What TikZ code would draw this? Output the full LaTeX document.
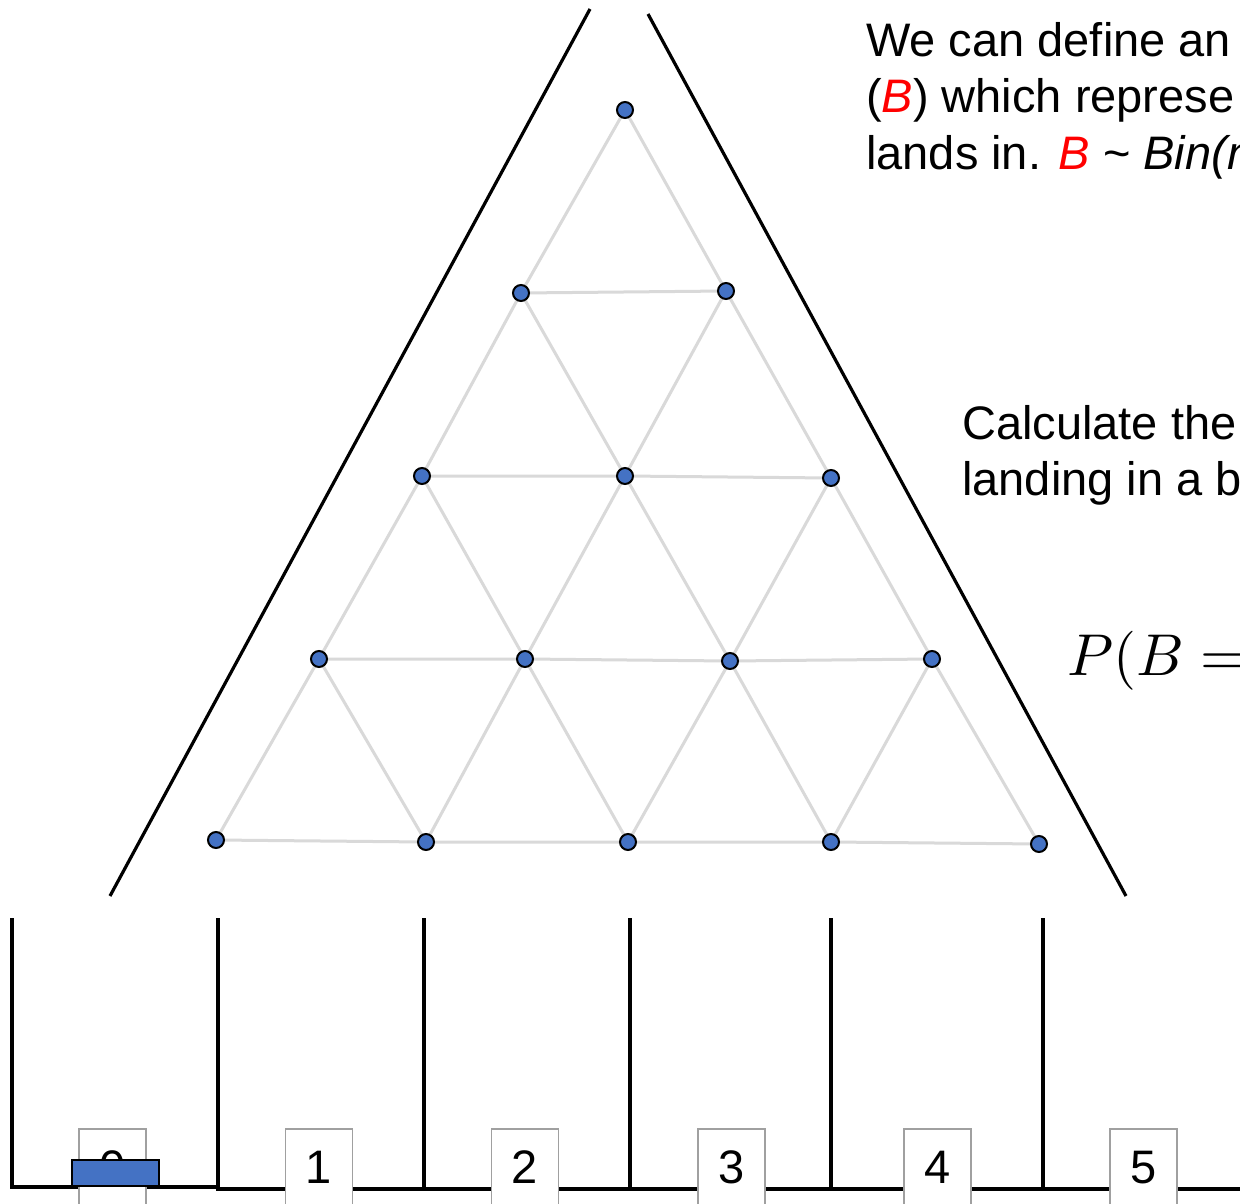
\documentclass[tikz,border=0pt]{standalone}
\usepackage{fontspec}
\setmainfont{Liberation Sans}
\usepackage{amsmath}
\definecolor{pegblue}{HTML}{4472C4}
\definecolor{latgrey}{HTML}{D9D9D9}
\definecolor{boxgrey}{HTML}{A0A0A0}
\definecolor{redB}{HTML}{FF0000}
\pgfdeclarelayer{background}
\pgfsetlayers{background,main}
\tikzset{
  peg/.style={circle,draw=black,fill=pegblue,line width=2pt,minimum size=16pt,inner sep=0pt},
  lattice/.style={draw=latgrey,line width=3pt},
  wall/.style={draw=black,line width=3.2pt},
  binlabel/.style={draw=boxgrey,fill=white,line width=1.8pt,minimum width=67pt,minimum height=100pt,anchor=north,inner sep=0pt},
  bintext/.style={font=\fontsize{47}{50}\selectfont,anchor=base,inner sep=0pt},
  txt/.style={font=\fontsize{47}{56}\selectfont,anchor=base west,inner sep=0pt},
}
\begin{document}
\begin{tikzpicture}[x=1pt,y=-1pt]
\clip (0,0) rectangle (1240,1204);

% pegs
\foreach \n/\x/\y in {p00/625/110,p10/521/293,p11/726/291,p20/422/476,p21/625/476,p22/831/478,p30/319/659,p31/525/659,p32/730/661,p33/932/659,p40/216/840,p41/426/842,p42/628/842,p43/831/842,p44/1039/844}
  \node[peg] (\n) at (\x,\y) {};

% white page and lattice (behind pegs)
\begin{pgfonlayer}{background}
\fill[white] (0,0) rectangle (1240,1204);
\path[lattice]
  (p00)--(p10) (p00)--(p11) (p10)--(p11)
  (p10)--(p20) (p10)--(p21) (p11)--(p21) (p11)--(p22) (p20)--(p21) (p21)--(p22)
  (p20)--(p30) (p20)--(p31) (p21)--(p31) (p21)--(p32) (p22)--(p32) (p22)--(p33)
  (p30)--(p31) (p31)--(p32) (p32)--(p33)
  (p30)--(p40) (p30)--(p41) (p31)--(p41) (p31)--(p42) (p32)--(p42) (p32)--(p43) (p33)--(p43) (p33)--(p44)
  (p40)--(p41) (p41)--(p42) (p42)--(p43) (p43)--(p44);
\end{pgfonlayer}

% funnel
\coordinate (fl1) at (590,9);
\coordinate (fl2) at (110,896);
\coordinate (fr1) at (648,14);
\coordinate (fr2) at (1126,896);
\draw[wall] (fl1) -- (fl2);
\draw[wall] (fr1) -- (fr2);

% bins
\coordinate (w0t) at (12,918);   \coordinate (w0b) at (12,1187);
\coordinate (w1t) at (218,918);  \coordinate (w1b) at (218,1189);
\coordinate (w2t) at (424,918);  \coordinate (w2b) at (424,1189);
\coordinate (w3t) at (630,918);  \coordinate (w3b) at (630,1189);
\coordinate (w4t) at (831,918);  \coordinate (w4b) at (831,1189);
\coordinate (w5t) at (1043,918); \coordinate (w5b) at (1043,1189);
\coordinate (fend) at (1240,1189);
\draw[wall] (w0t) -- (w0b) -- (218,1187);
\draw[wall] (w1t) -- (w1b) -- (fend);
\foreach \i in {2,3,4,5} \draw[wall] (w\i t) -- (w\i b);

% bin labels
\foreach \i/\x in {0/112.5,1/319,2/525,3/731.5,4/937.5,5/1143.5} {
  \node[binlabel] (lb\i) at (\x,1128) {};
  \node[bintext] (lt\i) at (\x,1183) {\i};
}

% ball
\node[draw=black,fill=pegblue,line width=2pt,minimum width=87pt,minimum height=26pt,inner sep=0pt] (ball) at (115.5,1173) {};

% texts
\node[txt] (t1) at (866,57) {We can define an};
\node[txt] (t2) at (866,113) {(\textcolor{redB}{\itshape B}) which represe};
\node[txt] (t3) at (866,170) {lands in. \textcolor{redB}{\itshape B} \textasciitilde{} \textit{Bin(n}};
\node[txt] (t4) at (962,439) {Calculate the};
\node[txt] (t5) at (962,495) {landing in a b};
\node[anchor=base west,inner sep=0pt,scale=5.9,transform shape] (f1) at (1066,675) {$P(B =$};
\end{tikzpicture}
\end{document}
